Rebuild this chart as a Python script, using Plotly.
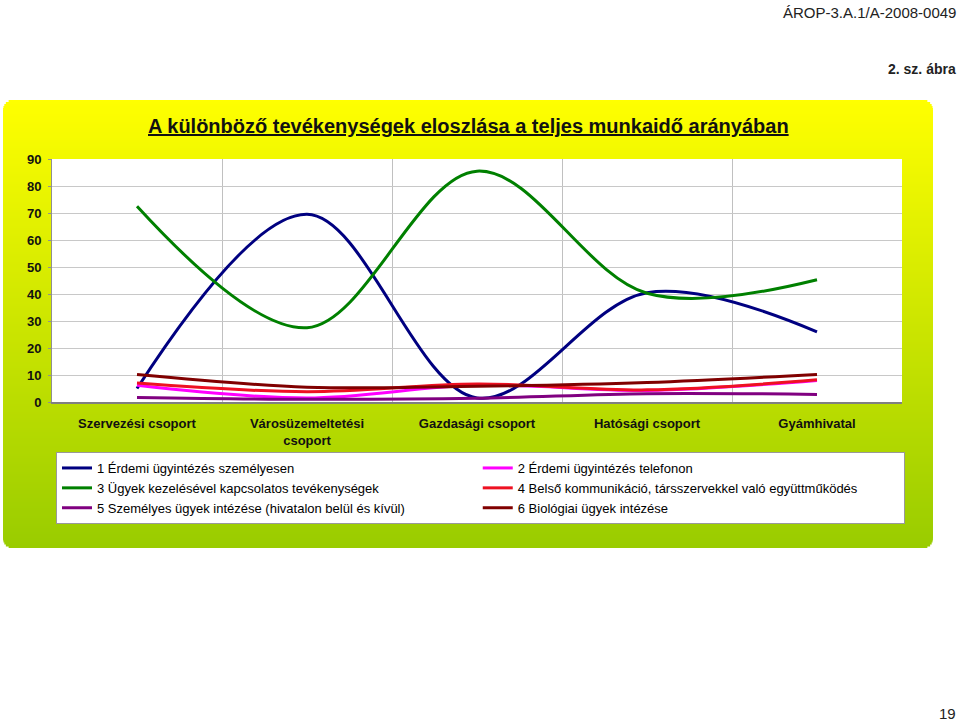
import plotly.graph_objects as go

# ---------------- data ----------------
categories = ["Szervezési csoport", "Városüzemeltetési<br>csoport", "Gazdasági csoport",
              "Hatósági csoport", "Gyámhivatal"]
series_names = [
    "1 Érdemi ügyintézés személyesen",
    "2 Érdemi ügyintézés telefonon",
    "3 Ügyek kezelésével kapcsolatos tevékenységek",
    "4 Belső kommunikáció, társszervekkel való együttműködés",
    "5 Személyes ügyek intézése (hivatalon belül és kívül)",
    "6 Biológiai ügyek intézése",
]
s1 = [5.0, 69.5, 1.5, 40.5, 26.0]
s2 = [6.2, 1.5, 6.3, 4.3, 8.0]
s3 = [72.5, 27.5, 85.5, 40.3, 45.3]
s4 = [7.0, 3.8, 6.7, 4.5, 8.2]
s5 = [1.7, 1.0, 1.4, 3.1, 2.8]
s6 = [10.2, 5.5, 5.8, 7.2, 10.2]
series_values = [s1, s2, s3, s4, s5, s6]
series_colors = ["#000080", "#FF00FF", "#008000", "#EE1122", "#800080", "#800000"]
y_ticks = [0, 10, 20, 30, 40, 50, 60, 70, 80, 90]

# ---------------- layout geometry (pixels) ----------------
W, H = 960, 722
PL, PR, PT, PB = 52, 902, 159, 402  # plot area


def fx(x):
    return (x - PL) / (PR - PL)


def fy(y):
    return (PB - y) / (PB - PT)


def mix(c1, c2, t):
    return "rgb({},{},{})".format(*[round(a + (b - a) * t) for a, b in zip(c1, c2)])


fig = go.Figure()
for name, vals, col in zip(series_names, series_values, series_colors):
    fig.add_trace(go.Scatter(
        x=categories, y=vals, name=name, mode="lines",
        line=dict(color=col, width=3, shape="spline", smoothing=1.0),
    ))

# gradient panel with rounded corners, built from thin stripes
shapes = []
px0, px1, py0, py1, r = 3, 933, 100, 548, 10
top_c, bot_c = (255, 255, 0), (153, 204, 0)
step = 2
y = py0
while y < py1:
    yc = y + step / 2
    inset = 0.0
    if yc < py0 + r:
        d = py0 + r - yc
        inset = r - (r * r - d * d) ** 0.5
    elif yc > py1 - r:
        d = yc - (py1 - r)
        inset = r - (r * r - min(d, r) ** 2) ** 0.5
    t = (yc - py0) / (py1 - py0)
    shapes.append(dict(
        type="rect", xref="paper", yref="paper", layer="below",
        x0=fx(px0 + inset), x1=fx(px1 - inset),
        y0=fy(y), y1=fy(min(y + step + 0.6, py1)),
        fillcolor=mix(top_c, bot_c, t), line=dict(width=0),
    ))
    y += step

# white plot area
shapes.append(dict(type="rect", xref="paper", yref="paper", layer="below",
                   x0=0, x1=1, y0=0, y1=1, fillcolor="white", line=dict(width=0)))

annotations = [
    dict(text="<b><u>A különböző tevékenységek eloszlása a teljes munkaidő arányában</u></b>",
         xref="paper", yref="paper", x=fx(468), y=fy(126), xanchor="center", yanchor="middle",
         showarrow=False, font=dict(family="Liberation Sans", size=20, color="#111111")),
    dict(text="ÁROP-3.A.1/A-2008-0049", xref="paper", yref="paper",
         x=fx(958), y=fy(12), xanchor="right", yanchor="middle", showarrow=False,
         font=dict(family="Liberation Sans", size=15, color="#222222")),
    dict(text="<b>2. sz. ábra</b>", xref="paper", yref="paper",
         x=fx(958), y=fy(69), xanchor="right", yanchor="middle", showarrow=False,
         font=dict(family="Liberation Sans", size=14, color="#222222")),
    dict(text="19", xref="paper", yref="paper",
         x=fx(958), y=fy(713), xanchor="right", yanchor="middle", showarrow=False,
         font=dict(family="Liberation Sans", size=15, color="#222222")),
]

fig.update_layout(
    width=W, height=H,
    margin=dict(l=PL, r=W - PR, t=PT, b=H - PB, pad=0),
    paper_bgcolor="white", plot_bgcolor="white",
    shapes=shapes, annotations=annotations,
    showlegend=True,
    legend=dict(
        orientation="h", entrywidth=0.495, entrywidthmode="fraction",
        x=fx(56), y=fy(452), xanchor="left", yanchor="top",
        bgcolor="white", bordercolor="#999999", borderwidth=1,
        font=dict(family="Liberation Sans", size=13, color="black"),
        traceorder="normal",
    ),
    xaxis=dict(
        type="category", tickson="boundaries", showgrid=True, gridcolor="#C0C0C0", gridwidth=1,
        showline=True, linecolor="#808080", linewidth=2, ticks="", ticklabelstandoff=8,
        tickfont=dict(family="Liberation Sans", size=13, color="#111111", weight="bold"),
        range=[-0.5, 4.5], fixedrange=True,
    ),
    yaxis=dict(
        range=[0, 90], tickvals=y_ticks, showgrid=True, gridcolor="#C8C8C8", gridwidth=1,
        showline=True, linecolor="#909090", linewidth=1, ticks="outside", ticklen=3,
        tickcolor="#909090", zeroline=False, ticklabelstandoff=4,
        tickfont=dict(family="Liberation Sans", size=13, color="#111111", weight="bold"),
    ),
)

fig.write_html(
    "out.html",
    config={"displayModeBar": False},
    post_script="document.body.style.margin='0';document.body.style.overflow='hidden';",
)
